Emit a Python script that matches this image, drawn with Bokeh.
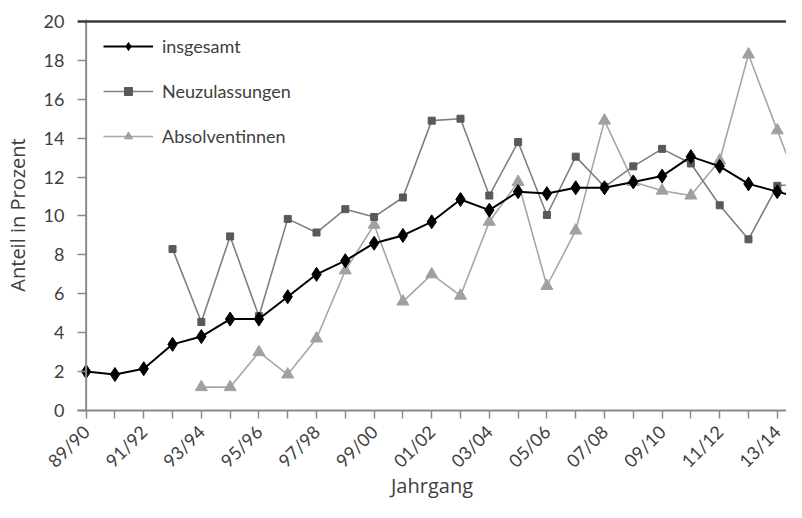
import numpy as np
from bokeh.plotting import figure
from bokeh.models import Range1d, FixedTicker, Span, Legend, LegendItem, ColumnDataSource
from bokeh.embed import file_html
from bokeh.resources import INLINE

nan = float("nan")
jahrgang = ["89/90", "90/91", "91/92", "92/93", "93/94", "94/95", "95/96", "96/97",
            "97/98", "98/99", "99/00", "00/01", "01/02", "02/03", "03/04", "04/05",
            "05/06", "06/07", "07/08", "08/09", "09/10", "10/11", "11/12", "12/13",
            "13/14", "14/15"]
insgesamt = [2.0, 1.85, 2.15, 3.4, 3.8, 4.7, 4.7, 5.85, 7.0, 7.7, 8.6, 9.0, 9.7, 10.85,
             10.3, 11.25, 11.15, 11.45, 11.45, 11.75, 12.05, 13.05, 12.55, 11.65, 11.25, 10.85]
neuzulassungen = [nan, nan, nan, 8.3, 4.55, 8.95, 4.85, 9.85, 9.15, 10.35, 9.95, 10.95, 14.9,
                  15.0, 11.05, 13.8, 10.05, 13.05, 11.5, 12.55, 13.45, 12.7, 10.55, 8.8, 11.55, 11.7]
absolventinnen = [nan, nan, nan, nan, 1.2, 1.2, 3.0, 1.85, 3.7, 7.2, 9.55, 5.6, 7.0, 5.9, 9.7,
                  11.75, 6.4, 9.25, 14.9, 11.75, 11.3, 11.05, 12.85, 18.3, 14.4, 10.6]
y_ticks = [0, 2, 4, 6, 8, 10, 12, 14, 16, 18, 20]

idx = list(range(len(jahrgang)))
src = ColumnDataSource(dict(x=idx, ins=insgesamt, neu=neuzulassungen, abs=absolventinnen))

FONT = "Lato"
TXT = "#404040"
AX = "#8a8a8a"
X0 = -0.3

p = figure(width=786, height=502, x_range=Range1d(X0, 24.32), y_range=Range1d(0, 20.1),
           output_backend="svg", toolbar_location=None,
           min_border_left=77, min_border_right=0, min_border_top=19, min_border_bottom=92)
p.xgrid.visible = False
p.ygrid.visible = False
p.outline_line_color = None
p.background_fill_color = "white"
p.border_fill_color = "white"

# visual axis lines
p.add_layout(Span(location=0, dimension="height", line_color=AX, line_width=2))
p.add_layout(Span(location=20, dimension="width", line_color="#3c3c3c", line_width=2.5))

# series
r_abs_l = p.line("x", "abs", source=src, line_color="#a6a6a6", line_width=1.6)
r_abs_m = p.scatter("x", "abs", source=src, marker="triangle", size=12,
                    fill_color="#a0a0a0", line_color="#a0a0a0")
r_neu_l = p.line("x", "neu", source=src, line_color="#7f7f7f", line_width=1.6)
r_neu_m = p.scatter("x", "neu", source=src, marker="square", size=7,
                    fill_color="#595959", line_color="#595959")
r_ins_l = p.line("x", "ins", source=src, line_color="black", line_width=2)
r_ins_m = p.scatter("x", "ins", source=src, marker="diamond", size=14,
                    fill_color="black", line_color="black")

# axes
xa = p.xaxis[0]
xa.ticker = FixedTicker(ticks=idx, minor_ticks=[])
xa.major_label_overrides = {i: (jahrgang[i] if i % 2 == 0 else "") for i in idx}
xa.major_label_orientation = np.pi / 4
xa.axis_label = "Jahrgang"

ya = p.yaxis[0]
ya.ticker = FixedTicker(ticks=y_ticks, minor_ticks=[])
ya.axis_label = "Anteil in Prozent"

for ax in (xa, ya):
    ax.axis_line_color = AX
    ax.axis_line_width = 2
    ax.major_tick_line_color = AX
    ax.major_tick_line_width = 1.5
    ax.minor_tick_line_color = None
    ax.major_label_text_font = FONT
    ax.major_label_text_font_size = "18px"
    ax.major_label_text_color = TXT
    ax.axis_label_text_font = "Open Sans"
    ax.axis_label_text_font_size = "20px"
    ax.axis_label_text_font_style = "normal"
    ax.axis_label_text_color = TXT
xa.major_tick_out = 8
xa.major_tick_in = 0
ya.axis_line_color = None
ya.major_tick_in = 9
ya.major_tick_out = 0
ya.major_label_standoff = 13
ya.axis_label_standoff = 10
xa.major_label_standoff = 10
xa.axis_label_standoff = -10

legend = Legend(items=[
    LegendItem(label="insgesamt", renderers=[r_ins_l, r_ins_m]),
    LegendItem(label="Neuzulassungen", renderers=[r_neu_l, r_neu_m]),
    LegendItem(label="Absolventinnen", renderers=[r_abs_l, r_abs_m]),
], location=(26, 263))
legend.margin = 0
legend.padding = 0
legend.glyph_width = 50
legend.glyph_height = 20
legend.label_height = 20
legend.spacing = 23
legend.label_standoff = 9
legend.border_line_color = None
legend.background_fill_alpha = 0
legend.label_text_font = FONT
legend.label_text_font_size = "18px"
legend.label_text_color = TXT
p.add_layout(legend)

open("out.html", "w").write(file_html(p, INLINE))
